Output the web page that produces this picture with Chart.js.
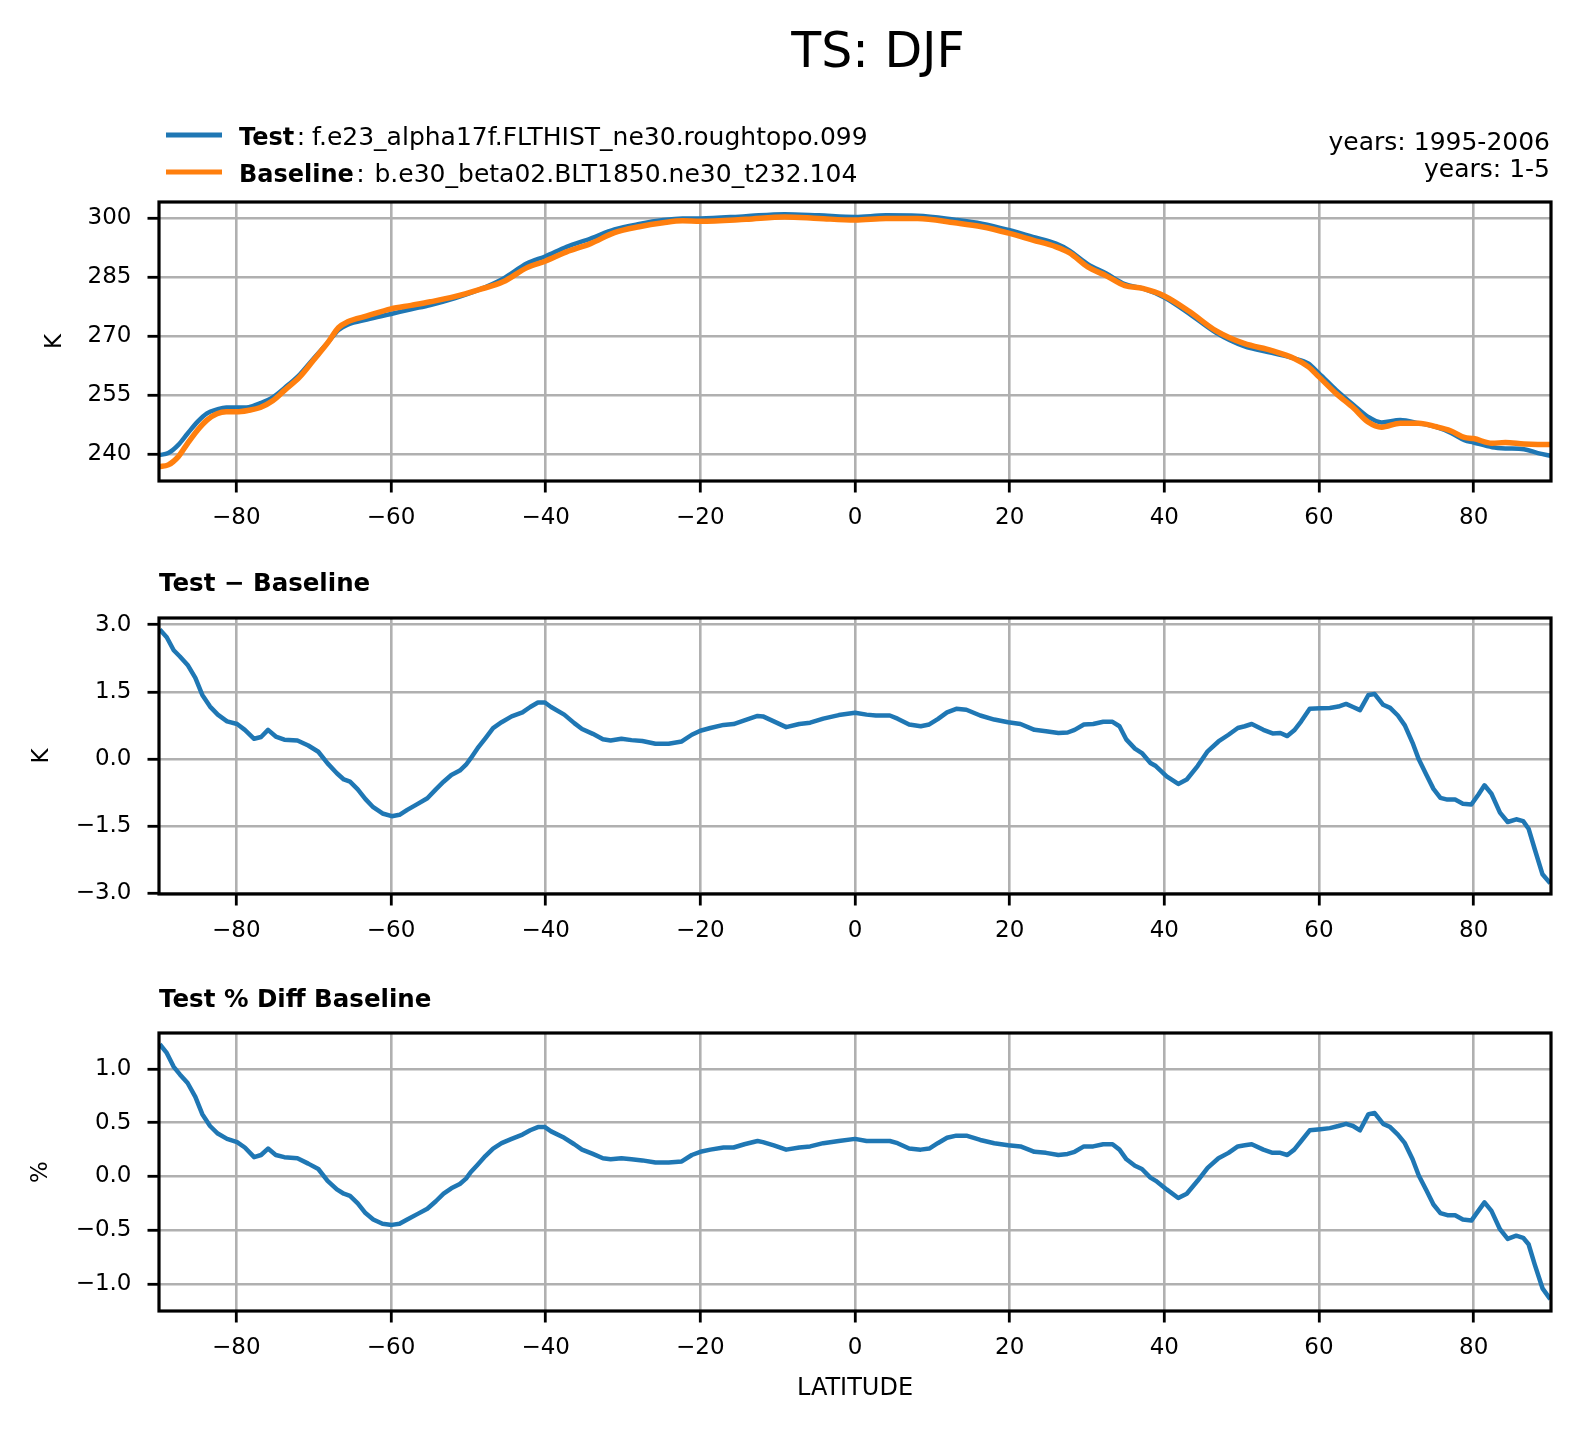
<!DOCTYPE html>
<html><head><meta charset="utf-8">
<script src="https://cdn.jsdelivr.net/npm/chart.js@4.4.1/dist/chart.umd.min.js"></script>
<style>
html,body{margin:0;padding:0;background:#fff;}
#wrap{position:relative;width:1580px;height:1433px;overflow:hidden;background:#fff}
canvas{position:absolute;left:0}
</style></head><body>
<div id="wrap">
<canvas id="c1" width="1580" height="560" style="top:0px"></canvas>
<canvas id="c2" width="1580" height="400" style="top:560px"></canvas>
<canvas id="c3" width="1580" height="473" style="top:960px"></canvas>
</div>
<script>
// ---------- data ----------
const latTop = [-90,-88.8,-87.5,-86.3,-85,-83.8,-82.5,-81.3,-80,-78.4,-76.9,-75.3,-73.7,-71.8,-70,-68.1,-66.8,-65.6,-63.1,-60,-57.4,-54.9,-51.8,-48.6,-45.5,-42.4,-40,-37.3,-34.2,-31.1,-27.9,-24.8,-22.3,-20,-14.1,-9.1,-4.7,0,4,8.1,12.9,16.4,20,23,26,27.7,30.1,32.5,34.9,37.2,40,43.2,46.7,50.3,53.9,56.8,58.6,60,62.2,64.5,66.3,68.1,70.5,72.9,75.2,77,78.8,80,82.4,84.1,86.5,88.3,90];
const testTS = [239.8,240.3,242.4,245.3,248.3,250.4,251.4,251.9,251.9,252.0,253.0,254.5,257.0,260.3,264.4,268.6,271.6,273.0,274.3,275.7,276.9,278.0,279.7,281.9,284.7,288.6,290.4,292.8,294.9,297.2,298.6,299.6,300.0,300.0,300.6,301.1,300.8,300.4,300.8,300.7,299.7,298.7,297.0,295.3,293.6,291.9,288.4,286.0,283.3,282.2,279.9,275.8,270.9,267.5,265.8,264.4,263.1,260.6,256.4,252.5,249.6,248.1,248.7,247.9,246.9,245.5,243.6,243.0,241.8,241.5,241.3,240.3,239.6];
const baseTS = [236.9,237.3,239.4,242.8,246.2,248.7,250.3,250.8,250.8,251.2,251.9,253.6,256.4,259.7,264.0,268.6,272.2,273.7,275.2,277.0,277.9,278.8,280.1,281.9,283.9,287.5,289.2,291.5,293.6,296.4,297.9,298.9,299.4,299.3,299.8,300.4,300.0,299.6,300.0,300.0,298.9,297.9,296.2,294.5,292.8,291.3,287.7,285.4,282.9,282.2,280.3,276.4,271.4,268.2,266.4,264.4,262.3,259.7,255.5,251.7,248.3,246.9,247.9,247.9,247.0,246.0,244.3,244.0,242.8,243.0,242.6,242.5,242.5];

const latDiff = [-89.9,-89.0,-88.1,-87.3,-86.3,-85.3,-84.4,-83.4,-82.4,-81.2,-79.9,-78.9,-77.7,-76.8,-75.9,-74.9,-73.8,-72.1,-70.7,-69.4,-68.2,-67.0,-66.1,-65.3,-64.3,-63.3,-62.3,-61.1,-59.9,-58.9,-57.9,-56.6,-55.3,-54.2,-53.2,-52.2,-51.1,-50.3,-49.7,-48.8,-47.8,-46.8,-45.7,-44.4,-43.0,-42.0,-41.0,-40.1,-39.3,-37.6,-36.3,-35.3,-33.9,-32.6,-31.6,-30.2,-28.9,-27.5,-25.8,-24.1,-22.4,-21.1,-20.0,-18.7,-17.0,-15.7,-14.3,-12.6,-11.9,-10.5,-8.9,-7.2,-5.8,-4.1,-2.1,
  0,1.5,2.7,4.5,5.5,7.0,8.5,9.6,10.7,11.9,13.1,14.4,16.2,18.0,19.8,21.4,23.2,24.7,26.3,27.5,28.4,29.6,30.8,32.1,33.3,34.2,35.1,36.2,37.1,38.2,38.9,40.3,41.8,42.9,44.3,45.6,47.0,48.3,49.5,50.4,51.3,52.8,54.0,55.0,55.9,56.8,57.7,58.8,60.2,61.4,62.5,63.5,64.4,65.3,66.4,67.2,68.3,69.2,70.2,71.1,72.1,72.9,73.9,74.8,75.7,76.6,77.6,78.6,79.7,80.6,81.4,82.3,83.4,84.4,85.5,86.4,87.1,87.9,88.9,89.9];
const diffK = [2.89,2.72,2.43,2.29,2.10,1.81,1.43,1.17,0.99,0.84,0.78,0.65,0.45,0.49,0.65,0.50,0.43,0.41,0.30,0.16,-0.10,-0.32,-0.46,-0.51,-0.68,-0.90,-1.08,-1.22,-1.28,-1.25,-1.14,-1.01,-0.88,-0.68,-0.51,-0.36,-0.26,-0.13,0.01,0.24,0.46,0.69,0.82,0.95,1.04,1.16,1.26,1.26,1.16,0.99,0.80,0.67,0.56,0.44,0.41,0.45,0.42,0.40,0.34,0.34,0.39,0.54,0.63,0.69,0.76,0.78,0.86,0.96,0.95,0.84,0.71,0.78,0.81,0.90,0.98,
  1.03,0.99,0.97,0.97,0.90,0.77,0.73,0.77,0.89,1.04,1.12,1.10,0.97,0.88,0.82,0.78,0.65,0.62,0.58,0.59,0.65,0.77,0.78,0.83,0.83,0.73,0.43,0.23,0.13,-0.09,-0.16,-0.39,-0.56,-0.46,-0.16,0.17,0.39,0.54,0.69,0.73,0.78,0.65,0.57,0.58,0.51,0.64,0.84,1.12,1.13,1.14,1.17,1.23,1.16,1.09,1.43,1.45,1.21,1.14,0.97,0.75,0.36,-0.01,-0.36,-0.67,-0.87,-0.91,-0.91,-1.00,-1.02,-0.80,-0.59,-0.78,-1.20,-1.41,-1.35,-1.39,-1.56,-2.02,-2.58,-2.78];
const diffPct = [1.23,1.15,1.02,0.95,0.87,0.74,0.58,0.47,0.40,0.35,0.32,0.27,0.18,0.20,0.26,0.20,0.18,0.17,0.12,0.07,-0.04,-0.12,-0.16,-0.18,-0.25,-0.34,-0.40,-0.44,-0.45,-0.44,-0.40,-0.35,-0.30,-0.23,-0.16,-0.11,-0.07,-0.02,0.04,0.11,0.19,0.26,0.31,0.35,0.39,0.43,0.46,0.46,0.42,0.36,0.30,0.25,0.21,0.17,0.16,0.17,0.16,0.15,0.13,0.13,0.14,0.20,0.23,0.25,0.27,0.27,0.30,0.33,0.32,0.29,0.25,0.27,0.28,0.31,0.33,
  0.35,0.33,0.33,0.33,0.31,0.26,0.25,0.26,0.31,0.36,0.38,0.38,0.34,0.31,0.29,0.28,0.23,0.22,0.20,0.21,0.23,0.28,0.28,0.30,0.30,0.25,0.16,0.10,0.07,-0.01,-0.04,-0.12,-0.20,-0.16,-0.04,0.08,0.17,0.22,0.28,0.29,0.30,0.25,0.22,0.22,0.20,0.25,0.33,0.43,0.44,0.45,0.47,0.49,0.47,0.43,0.58,0.59,0.49,0.46,0.39,0.31,0.16,0.01,-0.13,-0.26,-0.34,-0.36,-0.36,-0.40,-0.41,-0.32,-0.24,-0.32,-0.49,-0.58,-0.55,-0.57,-0.63,-0.82,-1.04,-1.14];

const xTicks = [-80,-60,-40,-20,0,20,40,60,80];
const yTicksTS = [240,255,270,285,300];
const yTicksDiff = [-3,-1.5,0,1.5,3];
const yTicksPct = [-1,-0.5,0,0.5,1];

const mainTitle = 'TS: DJF';
const testName = 'Test';
const testCase = 'f.e23_alpha17f.FLTHIST_ne30.roughtopo.099';
const baseName = 'Baseline';
const baseCase = 'b.e30_beta02.BLT1850.ne30_t232.104';
const yearsText = ['years: 1995-2006', 'years: 1-5'];
const diffTitle = 'Test \u2212 Baseline';
const pctTitle = 'Test % Diff Baseline';
const xLabel = 'LATITUDE';

// ---------- styling / helpers ----------
const FONT = 'DejaVu Sans';
const BLUE = '#1f77b4', ORANGE = '#ff7f0e';
Chart.defaults.font.family = FONT;
Chart.defaults.color = '#000';

const fmt = (v, d) => (v < 0 ? '\u2212' : '') + Math.abs(v).toFixed(d);
const pts = (xs, ys) => xs.map((x, i) => ({x: x, y: ys[i]}));

const gridOpts = {color: '#b0b0b0', lineWidth: 2.6, tickLength: 11.5, tickColor: '#000', tickWidth: 2.8, drawTicks: true};

function xScale(h, title) {
  return {
    type: 'linear', min: -90, max: 90, bounds: 'data',
    afterBuildTicks: s => { s.ticks = xTicks.map(v => ({value: v})); },
    afterFit: s => { s.height = h; },
    ticks: {font: {family: FONT, size: 23}, color: '#000', padding: 12, maxRotation: 0, autoSkip: false, callback: v => fmt(v, 0)},
    grid: gridOpts,
    border: {display: false},
    title: title ? {display: true, text: title, font: {family: FONT, size: 24}, color: '#000', padding: {top: 0, bottom: 0}} : {display: false}
  };
}
function yScale(min, max, ticks, dec, label, tp) {
  return {
    type: 'linear', min: min, max: max, bounds: 'data',
    afterBuildTicks: s => { s.ticks = ticks.map(v => ({value: v})); },
    afterFit: s => { s.width = 159; },
    ticks: {font: {family: FONT, size: 23}, color: '#000', padding: 16, callback: v => fmt(v, dec)},
    grid: gridOpts,
    border: {display: false},
    title: {display: true, text: label, font: {family: FONT, size: 23}, color: '#000', padding: {top: tp, bottom: 0}}
  };
}

const framePlugin = {
  id: 'frame',
  afterDraw(chart) {
    const {ctx, chartArea: a} = chart;
    ctx.save();
    ctx.strokeStyle = '#000';
    ctx.lineWidth = 3.2;
    ctx.strokeRect(a.left, a.top, a.right - a.left, a.bottom - a.top);
    ctx.restore();
  }
};

const headerPlugin = {
  id: 'header',
  afterDraw(chart) {
    const ctx = chart.ctx;
    ctx.save();
    ctx.fillStyle = '#000';
    ctx.textBaseline = 'alphabetic';
    ctx.textAlign = 'center';
    ctx.font = '49px "' + FONT + '"';
    ctx.fillText(mainTitle, 878, 67);
    // [name, case, dataset index, swatch y, baseline y, case text x]
    const rows = [[testName, testCase, 0, 135, 145, 312], [baseName, baseCase, 1, 172, 181.5, 374.5]];
    rows.forEach(r => {
      const ds = chart.data.datasets[r[2]];
      ctx.strokeStyle = ds.borderColor;
      ctx.lineWidth = 5.2;
      ctx.lineCap = 'butt';
      ctx.beginPath(); ctx.moveTo(166, r[3]); ctx.lineTo(222, r[3]); ctx.stroke();
      ctx.textAlign = 'left';
      ctx.font = 'bold 24px "' + FONT + '"';
      ctx.fillText(r[0], 239, r[4]);
      const w = ctx.measureText(r[0]).width;
      ctx.font = '25px "' + FONT + '"';
      ctx.fillText(':', 239 + w + 2.5, r[4]);
      ctx.fillText(r[1], r[5], r[4]);
    });
    ctx.textAlign = 'right';
    ctx.font = '25px "' + FONT + '"';
    ctx.fillText(yearsText[0], 1550, 150);
    ctx.fillText(yearsText[1], 1550, 177);
    ctx.restore();
  }
};

const common = {responsive: false, animation: false, devicePixelRatio: 1, events: []};

// ---------- panel 1 ----------
new Chart(document.getElementById('c1'), {
  type: 'line',
  data: {datasets: [
    {label: testName, data: pts(latTop, testTS), borderColor: BLUE, borderWidth: 4.5, pointRadius: 0, fill: false, cubicInterpolationMode: 'monotone', order: 1, borderJoinStyle: 'round'},
    {label: baseName, data: pts(latTop, baseTS), borderColor: ORANGE, borderWidth: 5.5, pointRadius: 0, fill: false, cubicInterpolationMode: 'monotone', order: 0, borderJoinStyle: 'round'}
  ]},
  options: Object.assign({}, common, {
    layout: {padding: {top: 202, left: 0, right: 29, bottom: 19}},
    plugins: {legend: {display: false}, title: {display: false}, tooltip: {enabled: false}},
    scales: {x: xScale(60, null), y: yScale(233.2, 304.2, yTicksTS, 0, 'K', 41)}
  }),
  plugins: [framePlugin, headerPlugin]
});

// ---------- panel 2 ----------
new Chart(document.getElementById('c2'), {
  type: 'line',
  data: {datasets: [
    {label: diffTitle, data: pts(latDiff, diffK), borderColor: BLUE, borderWidth: 4.5, pointRadius: 0, fill: false, tension: 0, borderJoinStyle: 'round'}
  ]},
  options: Object.assign({}, common, {
    layout: {padding: {top: 9.8, left: 0, right: 29, bottom: 6}},
    plugins: {legend: {display: false}, tooltip: {enabled: false},
      title: {display: true, text: diffTitle, align: 'start', fullSize: false, color: '#000', font: {family: FONT, size: 24.5, weight: 'bold'}, padding: {top: 0, bottom: 18.8}}},
    scales: {x: xScale(60, null), y: yScale(-3.02, 3.15, yTicksDiff, 1, 'K', 28)}
  }),
  plugins: [framePlugin]
});

// ---------- panel 3 ----------
new Chart(document.getElementById('c3'), {
  type: 'line',
  data: {datasets: [
    {label: pctTitle, data: pts(latDiff, diffPct), borderColor: BLUE, borderWidth: 4.5, pointRadius: 0, fill: false, tension: 0, borderJoinStyle: 'round'}
  ]},
  options: Object.assign({}, common, {
    layout: {padding: {top: 25.8, left: 0, right: 29, bottom: 29.6}},
    plugins: {legend: {display: false}, tooltip: {enabled: false},
      title: {display: true, text: pctTitle, align: 'start', fullSize: false, color: '#000', font: {family: FONT, size: 24.5, weight: 'bold'}, padding: {top: 0, bottom: 17.8}}},
    scales: {x: xScale(92.4, xLabel), y: yScale(-1.251, 1.335, yTicksPct, 1, '%', 27)}
  }),
  plugins: [framePlugin]
});
</script>
</body></html>
